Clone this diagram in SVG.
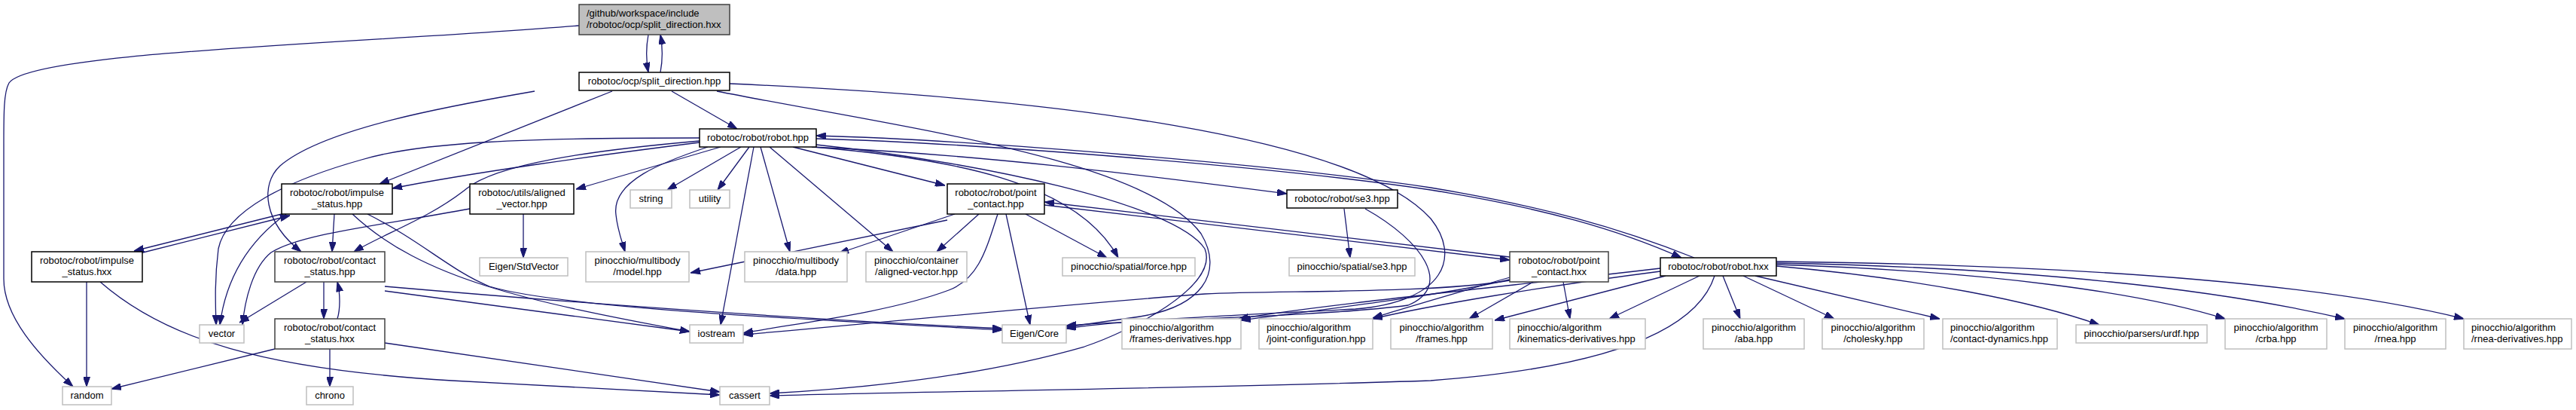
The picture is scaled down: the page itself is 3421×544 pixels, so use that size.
<svg xmlns="http://www.w3.org/2000/svg" width="3421" height="544" viewBox="0 0 3421 544">
<style>
.n rect{fill:#fff;stroke:#000;stroke-width:1.5}
.n.g rect{stroke:#404040}
.n.s rect{fill:#bfbfbf;stroke:#404040}
.n.x rect{stroke:#bfbfbf}
text{font-family:"Liberation Sans",Arial,sans-serif;font-size:13px;fill:#000;text-anchor:middle}
.l text{text-anchor:start}
#edges path{fill:none;stroke:#191970;stroke-width:1.3;marker-end:url(#a)}
</style>
<defs>
<marker id="a" markerUnits="userSpaceOnUse" markerWidth="13" markerHeight="9" refX="13" refY="4.5" orient="auto" viewBox="0 0 13 9">
<path d="M0,0 L13,4.5 L0,9 Z" fill="#191970" stroke="#191970"/>
</marker>
</defs>
<rect width="3421" height="544" fill="#fff"/>
<g id="edges">
<path d="M861,46 C858,62 858,80 861,96"/>
<path d="M877,96 C880,80 880,62 877,46"/>
<path d="M769,34 C480,58 40,68 12,110 C5,122 5,150 5,190 L5,370 C5,420 50,470 97,513"/>
<path d="M892,121 L979,171"/>
<path d="M813,121 L504,244"/>
<path d="M710,121 C600,140 430,170 372,220 C345,245 350,295 400,334"/>
<path d="M952,121 C1200,170 1520,210 1595,310 C1625,360 1600,410 1500,422 L1416,434"/>
<path d="M969,111 C1400,130 1800,180 1900,290 C1940,340 1920,400 1800,410 C1650,418 1480,425 1416,436"/>
<path d="M929,189 C800,205 620,230 521,250"/>
<path d="M957,195 L765,251"/>
<path d="M929,187 C780,200 660,218 620,250 C570,290 510,310 470,334"/>
<path d="M984,195 L886,252"/>
<path d="M995,195 L953,252"/>
<path d="M940,195 C880,215 812,240 818,285 C820,305 826,320 830,334"/>
<path d="M929,183 C700,183 560,188 480,212 C380,240 300,280 290,330 C285,370 286,400 287,431"/>
<path d="M1001,195 L957,431"/>
<path d="M1010,195 L1049,334"/>
<path d="M1022,195 L1186,334"/>
<path d="M1053,195 L1255,246"/>
<path d="M1080,195 C1260,210 1430,240 1485,342"/>
<path d="M1078,195 C1300,205 1500,230 1709,257"/>
<path d="M1084,184 C1300,190 1700,222 1900,252 C2050,276 2150,305 2233,342"/>
<path d="M1084,192 C1300,215 1560,270 1600,330 C1620,380 1500,440 1440,460 C1300,500 1150,515 1022,522"/>
<path d="M2250,342 C2150,302 2050,274 1900,249 C1700,219 1300,186 1084,180"/>
<path d="M2205,356 C2000,380 1750,405 1645,423"/>
<path d="M2205,360 C2050,380 1900,405 1823,423"/>
<path d="M2212,366 L1985,425"/>
<path d="M2257,366 L2137,423"/>
<path d="M2288,366 L2311,423"/>
<path d="M2315,366 L2436,423"/>
<path d="M2331,366 L2576,423"/>
<path d="M2359,353 C2550,370 2700,400 2788,431"/>
<path d="M2359,351 C2650,360 2850,390 2955,423"/>
<path d="M2359,349 C2700,355 2950,385 3114,423"/>
<path d="M2359,347 C2800,352 3100,380 3272,423"/>
<path d="M2277,366 C2250,450 2100,490 1900,505 C1600,515 1200,520 1022,525"/>
<path d="M1258,292 L917,362"/>
<path d="M1268,284 L1114,336"/>
<path d="M1300,284 L1244,334"/>
<path d="M1362,284 L1470,342"/>
<path d="M1336,284 L1368,431"/>
<path d="M1325,284 C1310,330 1300,370 1260,385 C1180,415 1050,430 987,442"/>
<path d="M1387,272 L2005,345"/>
<path d="M2005,341 L1387,268"/>
<path d="M2036,374 L1951,423"/>
<path d="M2076,374 L2085,423"/>
<path d="M2005,368 C1930,390 1860,410 1823,422"/>
<path d="M2005,371 C1900,395 1720,415 1648,425"/>
<path d="M2005,372 C1900,390 1700,385 1600,390 C1400,405 1150,430 987,444"/>
<path d="M1785,277 L1793,342"/>
<path d="M1813,277 C1890,320 1930,380 1870,405 C1760,420 1500,425 1416,432"/>
<path d="M186,336 L385,286"/>
<path d="M378,283 L178,333"/>
<path d="M115,374 L115,513"/>
<path d="M133,374 C220,450 350,490 600,505 C750,512 880,520 956,524"/>
<path d="M444,284 L441,334"/>
<path d="M380,284 C330,320 300,370 292,431"/>
<path d="M468,284 C560,370 700,400 916,440"/>
<path d="M488,284 C560,320 600,360 650,380 C750,410 1100,425 1331,438"/>
<path d="M430,374 L430,423"/>
<path d="M448,423 C452,410 452,390 448,374"/>
<path d="M407,374 L318,428"/>
<path d="M511,386 C700,410 850,430 916,440"/>
<path d="M511,380 C800,405 1100,425 1331,436"/>
<path d="M365,463 L148,516"/>
<path d="M438,463 L438,513"/>
<path d="M511,455 L956,520"/>
<path d="M695,284 L695,342"/>
<path d="M624,277 C500,300 400,310 360,335 C335,355 325,400 322,431"/>
</g>
<g id="split_hxx" class="n s l"><rect x="769" y="6" width="200" height="40"/><text x="779" y="22">/github/workspace/include</text><text x="779" y="37">/robotoc/ocp/split_direction.hxx</text></g>
<g id="split_hpp" class="n"><rect x="769" y="96" width="200" height="24"/><text x="869" y="112">robotoc/ocp/split_direction.hpp</text></g>
<g id="robot_hpp" class="n"><rect x="929" y="171" width="155" height="24"/><text x="1006.5" y="187">robotoc/robot/robot.hpp</text></g>
<g id="impulse_status_hpp" class="n"><rect x="374" y="244" width="147" height="40"/><text x="447.5" y="260">robotoc/robot/impulse</text><text x="447.5" y="275">_status.hpp</text></g>
<g id="aligned_vector_hpp" class="n"><rect x="624" y="244" width="138" height="40"/><text x="693" y="260">robotoc/utils/aligned</text><text x="693" y="275">_vector.hpp</text></g>
<g id="string" class="n x"><rect x="837" y="252" width="55" height="24"/><text x="864.5" y="268">string</text></g>
<g id="utility" class="n x"><rect x="916" y="252" width="53" height="24"/><text x="942.5" y="268">utility</text></g>
<g id="point_contact_hpp" class="n"><rect x="1258" y="244" width="129" height="40"/><text x="1322.5" y="260">robotoc/robot/point</text><text x="1322.5" y="275">_contact.hpp</text></g>
<g id="robot_se3_hpp" class="n"><rect x="1709" y="252" width="147" height="24"/><text x="1782.5" y="268">robotoc/robot/se3.hpp</text></g>
<g id="impulse_status_hxx" class="n"><rect x="42" y="334" width="147" height="40"/><text x="115.5" y="350">robotoc/robot/impulse</text><text x="115.5" y="365">_status.hxx</text></g>
<g id="contact_status_hpp" class="n g"><rect x="365" y="334" width="146" height="40"/><text x="438" y="350">robotoc/robot/contact</text><text x="438" y="365">_status.hpp</text></g>
<g id="eigen_stdvector" class="n x"><rect x="637" y="342" width="117" height="24"/><text x="695.5" y="358">Eigen/StdVector</text></g>
<g id="model_hpp" class="n x"><rect x="778" y="334" width="137" height="40"/><text x="846.5" y="350">pinocchio/multibody</text><text x="846.5" y="365">/model.hpp</text></g>
<g id="data_hpp" class="n x"><rect x="989" y="334" width="136" height="40"/><text x="1057" y="350">pinocchio/multibody</text><text x="1057" y="365">/data.hpp</text></g>
<g id="aligned_vector_pin" class="n x"><rect x="1150" y="334" width="134" height="40"/><text x="1217" y="350">pinocchio/container</text><text x="1217" y="365">/aligned-vector.hpp</text></g>
<g id="force_hpp" class="n x"><rect x="1411" y="342" width="176" height="24"/><text x="1499" y="358">pinocchio/spatial/force.hpp</text></g>
<g id="spatial_se3_hpp" class="n x"><rect x="1712" y="342" width="167" height="24"/><text x="1795.5" y="358">pinocchio/spatial/se3.hpp</text></g>
<g id="point_contact_hxx" class="n g"><rect x="2005" y="334" width="131" height="40"/><text x="2070.5" y="350">robotoc/robot/point</text><text x="2070.5" y="365">_contact.hxx</text></g>
<g id="robot_hxx" class="n"><rect x="2205" y="342" width="154" height="24"/><text x="2282" y="358">robotoc/robot/robot.hxx</text></g>
<g id="vector" class="n x"><rect x="265" y="431" width="59" height="24"/><text x="294.5" y="447">vector</text></g>
<g id="iostream" class="n x"><rect x="916" y="431" width="71" height="24"/><text x="951.5" y="447">iostream</text></g>
<g id="eigen_core" class="n x"><rect x="1331" y="431" width="85" height="24"/><text x="1373.5" y="447">Eigen/Core</text></g>
<g id="frames_derivatives" class="n x l"><rect x="1490" y="423" width="158" height="40"/><text x="1500" y="439">pinocchio/algorithm</text><text x="1500" y="454">/frames-derivatives.hpp</text></g>
<g id="joint_configuration" class="n x l"><rect x="1672" y="423" width="151" height="40"/><text x="1682" y="439">pinocchio/algorithm</text><text x="1682" y="454">/joint-configuration.hpp</text></g>
<g id="frames" class="n x"><rect x="1847" y="423" width="135" height="40"/><text x="1914.5" y="439">pinocchio/algorithm</text><text x="1914.5" y="454">/frames.hpp</text></g>
<g id="kinematics_derivatives" class="n x l"><rect x="2005" y="423" width="180" height="40"/><text x="2015" y="439">pinocchio/algorithm</text><text x="2015" y="454">/kinematics-derivatives.hpp</text></g>
<g id="aba" class="n x"><rect x="2262" y="423" width="134" height="40"/><text x="2329" y="439">pinocchio/algorithm</text><text x="2329" y="454">/aba.hpp</text></g>
<g id="cholesky" class="n x"><rect x="2420" y="423" width="135" height="40"/><text x="2487.5" y="439">pinocchio/algorithm</text><text x="2487.5" y="454">/cholesky.hpp</text></g>
<g id="contact_dynamics" class="n x l"><rect x="2580" y="423" width="152" height="40"/><text x="2590" y="439">pinocchio/algorithm</text><text x="2590" y="454">/contact-dynamics.hpp</text></g>
<g id="urdf" class="n x"><rect x="2757" y="431" width="174" height="24"/><text x="2844" y="447">pinocchio/parsers/urdf.hpp</text></g>
<g id="crba" class="n x"><rect x="2955" y="423" width="135" height="40"/><text x="3022.5" y="439">pinocchio/algorithm</text><text x="3022.5" y="454">/crba.hpp</text></g>
<g id="rnea" class="n x"><rect x="3114" y="423" width="134" height="40"/><text x="3181" y="439">pinocchio/algorithm</text><text x="3181" y="454">/rnea.hpp</text></g>
<g id="rnea_derivatives" class="n x l"><rect x="3272" y="423" width="143" height="40"/><text x="3282" y="439">pinocchio/algorithm</text><text x="3282" y="454">/rnea-derivatives.hpp</text></g>
<g id="contact_status_hxx" class="n g"><rect x="365" y="423" width="146" height="40"/><text x="438" y="439">robotoc/robot/contact</text><text x="438" y="454">_status.hxx</text></g>
<g id="random" class="n x"><rect x="83" y="513" width="65" height="24"/><text x="115.5" y="529">random</text></g>
<g id="chrono" class="n x"><rect x="407" y="513" width="62" height="24"/><text x="438" y="529">chrono</text></g>
<g id="cassert" class="n x"><rect x="956" y="513" width="66" height="24"/><text x="989" y="529">cassert</text></g>
</svg>
